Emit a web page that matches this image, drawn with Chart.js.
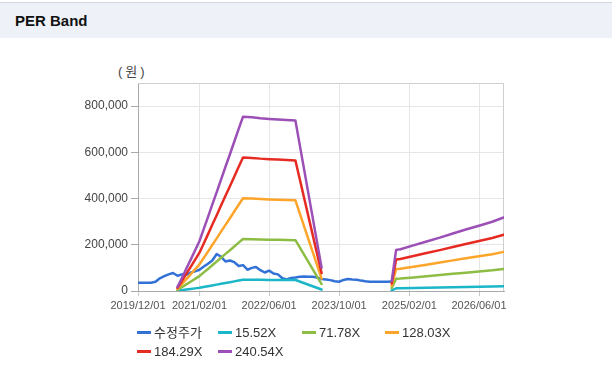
<!DOCTYPE html>
<html><head><meta charset="utf-8">
<script src="https://cdn.jsdelivr.net/npm/chart.js@4/dist/chart.umd.min.js"></script>
<style>
html,body{margin:0;padding:0;background:#fff;width:612px;height:383px;overflow:hidden;font-family:"Liberation Sans","Noto Sans CJK KR",sans-serif;}
#hdr{position:absolute;left:0;top:2px;width:612px;height:35px;background:#eef2f8;border-top:1px solid #d3d7dd;}
#hdr span{position:absolute;left:15px;top:9px;font-weight:bold;font-size:15px;color:#111;}
#wrap{position:absolute;left:0;top:40px;width:612px;height:280px;}
#unit{position:absolute;left:118px;top:61px;font-size:13px;color:#444;letter-spacing:3px;}
#legend{position:absolute;left:0;top:0;width:612px;height:383px;pointer-events:none;}
.li{position:absolute;font-size:13px;color:#333;white-space:nowrap;line-height:16px;}
.li i{display:inline-block;width:14px;height:3px;vertical-align:middle;margin-right:3px;position:relative;top:-1px;}
</style></head>
<body>
<div id="hdr"><span>PER Band</span></div>
<div id="unit">(원)</div>
<div id="wrap"><canvas id="c" width="612" height="280"></canvas></div>
<div id="legend"></div>
<script>
// ---- data ----
const tickLabels = ['2019/12/01','2021/02/01','2022/06/01','2023/10/01','2025/02/01','2026/06/01'];
const axisEnd = '2026/11/22';
const yTicks = [0, 200000, 400000, 600000, 800000];
const yMax = 900000;
const seriesNames = ['수정주가','15.52X','71.78X','128.03X','184.29X','240.54X'];
const seriesColors = ['#3272d6','#1cb6c9','#8dbd45','#fda52b','#e62b22','#9c4fb6'];

const priceDates = ['2019/12/01','2020/01/01','2020/02/01','2020/03/01','2020/04/01','2020/05/01','2020/06/01','2020/07/01','2020/08/01','2020/09/01','2020/10/01','2020/11/01','2020/12/01','2021/01/01','2021/02/01','2021/03/01','2021/04/01','2021/05/01','2021/06/01','2021/07/01','2021/08/01','2021/09/01','2021/10/01','2021/11/01','2021/12/01','2022/01/01','2022/02/01','2022/03/01','2022/04/01','2022/05/01','2022/06/01','2022/07/01','2022/08/01','2022/09/01','2022/10/01','2022/11/01','2022/12/01','2023/01/01','2023/02/01','2023/03/01','2023/04/01','2023/05/01','2023/06/01','2023/07/01','2023/08/01','2023/09/01','2023/10/01','2023/11/01','2023/12/01','2024/01/01','2024/02/01','2024/03/01','2024/04/01','2024/05/01','2024/06/01','2024/07/01','2024/08/01','2024/09/01','2024/10/01'];
const price = [36000,36000,36000,36000,40000,55000,64000,72000,78000,66000,72000,70000,80000,85000,92000,105000,118000,132000,160000,148000,128000,132000,125000,108000,112000,92000,100000,104000,90000,80000,88000,76000,72000,55000,50000,56000,58000,62000,63000,62000,62000,58000,52000,50000,47000,42000,40000,48000,52000,50000,49000,45000,42000,40000,40000,40000,40000,40000,41000];

const bandDates = ['2020/09/01','2020/10/01','2020/11/01','2020/12/01','2021/01/01','2021/02/01','2021/03/01','2021/04/01','2021/05/01','2021/06/01','2021/07/01','2021/08/01','2021/09/01','2021/10/01','2021/11/01','2021/12/01','2022/02/01','2022/04/01','2022/06/01','2022/08/01','2022/10/01','2022/12/01','2023/06/01','2024/01/01','2024/10/01','2024/11/01','2024/12/01','2025/03/01','2025/06/01','2025/09/01','2025/12/01','2026/03/01','2026/06/01','2026/09/01','2026/11/20'];
const band1552 = [1164,3570,6208,8691,11330,13968,17150,20642,24134,27626,31118,34687,38179,41671,45241,48640,48500,48236,48034,47879,47771,47569,6518,null,2763,11485,11671,12726,13813,14899,16063,17150,18236,19322,20517];
const band7178 = [5384,16509,28712,40197,52399,64602,79317,95467,111618,127768,143919,160428,176579,192729,209239,224959,224313,223092,222159,221441,220939,220006,30148,null,12777,53117,53979,58860,63884,68909,74292,79317,84342,89366,94893];
const band12803 = [9602,29447,51212,71697,93462,115227,141473,170280,199087,227893,256700,286147,314954,343761,373207,401246,400094,397917,396253,394973,394076,392412,53773,null,22789,94742,96279,104985,113947,122909,132511,141473,150435,159397,169256];
const band18429 = [13822,42387,73716,103202,134532,165861,203640,245106,286571,328036,369501,411888,453353,494819,537205,577565,575906,572773,570378,568535,567245,564849,77402,null,32804,136375,138586,151118,164018,176918,190740,203640,216541,229441,243631];
const band24054 = [18041,55324,96216,134702,175594,216486,265797,319918,374040,428161,482283,537607,591728,645850,701174,753852,751688,747598,744471,742066,740382,737255,101027,null,42816,178000,180886,197243,214081,230918,248959,265797,282635,299472,317994];

// ---- helpers ----
function day(s){const p=s.split('/').map(Number);return (Date.UTC(p[0],p[1]-1,p[2])-Date.UTC(2019,11,1))/86400000;}
function pts(dates, vals){return dates.map((d,i)=>({x:day(d), y:vals[i]}));}

const seriesData = [pts(priceDates,price),pts(bandDates,band1552),pts(bandDates,band7178),pts(bandDates,band12803),pts(bandDates,band18429),pts(bandDates,band24054)];
const datasets = seriesNames.map((n,i)=>({
  label:n, data:seriesData[i], borderColor:seriesColors[i], backgroundColor:seriesColors[i],
  borderWidth:2.5, pointRadius:0, tension:0, spanGaps:false, fill:false, order:-i,
  borderJoinStyle:'round', borderCapStyle:'round'
}));

const frame = {id:'frame', beforeDatasetsDraw(chart){
  const a=chart.chartArea, ctx=chart.ctx; ctx.save(); ctx.strokeStyle='#cfcfcf'; ctx.lineWidth=1;
  ctx.beginPath(); ctx.moveTo(a.left, a.top+0.5); ctx.lineTo(a.right-0.5, a.top+0.5); ctx.lineTo(a.right-0.5, a.bottom); ctx.stroke(); ctx.restore();
}};

const chart = new Chart(document.getElementById('c'), {
  type:'line',
  data:{datasets},
  options:{
    responsive:false, animation:false, devicePixelRatio:1,
    layout:{padding:{left:0,right:108,top:43,bottom:0}},
    plugins:{legend:{display:false}, tooltip:{enabled:false}},
    scales:{
      x:{type:'linear', min:day(tickLabels[0]), max:day(axisEnd),
        afterBuildTicks(s){s.ticks = tickLabels.map(t=>({value:day(t)}));},
        afterFit(s){s.height=29;},
        ticks:{autoSkip:false, maxRotation:0, color:'#555', font:{size:11, family:'"Liberation Sans","Noto Sans CJK KR",sans-serif'}, padding:3,
          callback(v){const i=tickLabels.findIndex(t=>day(t)===v); return i>=0?tickLabels[i]:'';}},
        grid:{color:'#e6e6e6', tickColor:'#c8c8c8', tickLength:5},
        border:{color:'#aaaaaa'}
      },
      y:{min:0, max:yMax,
        afterBuildTicks(s){s.ticks = yTicks.map(v=>({value:v}));},
        afterFit(s){s.width=138;},
        ticks:{color:'#444', font:{size:12, family:'"Liberation Sans","Noto Sans CJK KR",sans-serif'}, padding:3,
          callback(v){return Number(v).toLocaleString('en-US');}},
        grid:{color:'#e6e6e6', tickColor:'#aaaaaa', tickLength:7},
        border:{color:'#aaaaaa'}
      }
    }
  },
  plugins:[frame]
});

// HTML legend built from the chart datasets
const legendPos = [[137,325],[218,325],[302,325],[385,325],[137,344],[218,344]];
const lg = document.getElementById('legend');
chart.data.datasets.forEach((ds,i)=>{
  const el=document.createElement('div'); el.className='li';
  el.style.left=legendPos[i][0]+'px'; el.style.top=legendPos[i][1]+'px';
  el.innerHTML='<i style="background:'+ds.borderColor+'"></i>'+ds.label;
  lg.appendChild(el);
});
</script>
</body></html>
